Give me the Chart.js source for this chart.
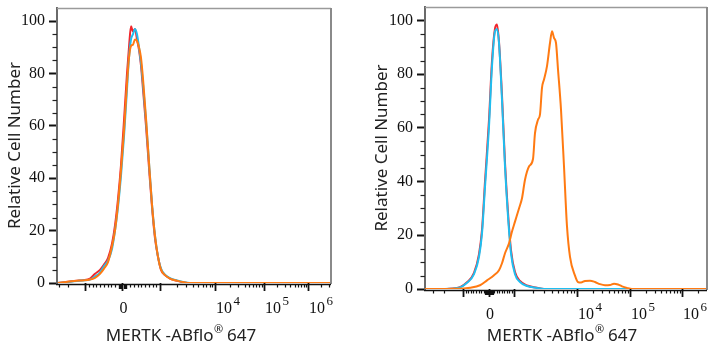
<!DOCTYPE html>
<html><head><meta charset="utf-8">
<script src="https://cdn.jsdelivr.net/npm/chart.js@4.4.0/dist/chart.umd.min.js"></script>
<style>
html,body{margin:0;padding:0;background:#fff;}
#wrap{position:relative;width:717px;height:350px;overflow:hidden;background:#fff;}
canvas{position:absolute;top:0;}
</style></head><body>
<div id="wrap">
<canvas id="c1" width="358" height="350" style="left:0"></canvas>
<canvas id="c2" width="359" height="350" style="left:358px"></canvas>
</div>
<script>
// ---------- data ----------
const yTickValues = [0, 20, 40, 60, 80, 100];
const xLabelBase = ['0', '10', '10', '10'];
const xLabelExp  = ['', '4', '5', '6'];
const xTitleMain = 'MERTK -ABflo';
const xTitleMark = '\u00AE';
const xTitleTail = ' 647';
const yTitle = 'Relative Cell Number';

// display-channel positions of major ticks: -10^3, 0, 10^3, 10^4, 10^5, 10^6
const leftMajorTicks  = [28, 65.5, 103, 158, 207, 251];
const rightMajorTicks = [38, 64, 89, 152, 205, 257];

// left panel (three overlapping histograms)
const leftX      = [1,7,13,20,26,33,38,43,47,51,55,58,61,64,67,70,72,74,76,78,80,82,84,86,89,92,95,98,101,104,108,113,120,127,133,143,274];
const leftRed    = [0,.3,.6,.9,1.1,1.7,3.5,5,7,9.5,15,22,32,45,62,80,90,98,96,97,93,89,83,74,60,44,29,17,10,5,3,1.7,.8,.2,0,0,0];
const leftCyan   = [0,.2,.5,.8,1,1.3,2.5,4,6.5,8.5,13,20,29,41,56,74,86,93,95,97,95,90,84,76,62,46,30,18,10,5.5,3.2,1.9,1,.3,0,0,0];
const leftOrange = [0,.3,.6,.9,1,1.3,2,3.5,5.5,8,14,20,30,43,58,76,86,90.5,91,93,92.5,90,86,78,63,46,30,18,10,5.2,3,1.7,.9,.3,0,0,0];

// right panel
const rightCtrlX = [20,35,42,49,54,57,60,64,67,70,72,74,77,80,83,86,90,95,102,112,119,282];
const rightCyan  = [0,0.6,2.3,5.5,12,20.7,38,60.5,83,96,96.8,91.6,70.5,45.6,27,13.3,5.5,2.6,1.1,0.4,0,0];
const rightRed   = [0,0.7,2.5,6,13,22,40,63,85,97,98.5,92,72,47,28.5,14.5,6.3,3,1.3,0.5,0,0];
const rightOrangeX = [0,32,45,55,62,69,74,77,80,84,87,90,94,97,100,104,108,110,113,115,117,119,122,125,127,129,131,133,136,139,142,145,150,153,156,160,165,170,175,180,185,189,193,197,202,207,282];
const rightOrange  = [0,0.1,0.5,1.4,3.2,5.1,7,9.6,13.3,17,21.4,25.1,30,33.8,40.7,45.6,48.4,58,63,65,74.9,78,83,91.6,96,93.5,91.6,81.8,66.8,45.6,23.3,12,5,2.6,2.4,3,3.1,2.6,1.8,1.4,1.5,2,1.7,1,0.4,0,0];

// ---------- styles ----------
const RED = '#f0262c', CYAN = '#1fbef0', ORANGE = '#ff7a12';
const pts = (xs, ys) => xs.map((x, i) => ({x, y: ys[i]}));

function makeChart(id, cfg) {
  const flowAxes = {
    id: 'flowAxes',
    afterDraw(chart) {
      const {ctx, chartArea: a, scales: {x, y}} = chart;
      ctx.save();
      // frame top/right
      ctx.strokeStyle = '#9a9a9a'; ctx.lineWidth = 1.5;
      ctx.beginPath(); ctx.moveTo(a.left, a.top + 0.5); ctx.lineTo(a.right, a.top + 0.5); ctx.stroke();
      ctx.strokeStyle = '#8a8a8a'; ctx.lineWidth = 2;
      ctx.beginPath(); ctx.moveTo(a.right, a.top); ctx.lineTo(a.right, a.bottom + 1); ctx.stroke();
      // bottom axis line
      ctx.strokeStyle = '#111'; ctx.lineWidth = 1.6;
      ctx.beginPath(); ctx.moveTo(a.left - 1, a.bottom + 1.5); ctx.lineTo(a.right, a.bottom + 1.5); ctx.stroke();
      // y minor ticks
      ctx.strokeStyle = '#222'; ctx.lineWidth = 1.2;
      for (let v = 5; v < 100; v += 5) {
        if (v % 20 === 0) continue;
        const py = Math.round(y.getPixelForValue(v)) + 0.5;
        ctx.beginPath(); ctx.moveTo(a.left - 4.5, py); ctx.lineTo(a.left, py); ctx.stroke();
      }
      // x minor ticks
      const M = cfg.major;
      const [neg, zero, pos] = M;
      const dec = M.slice(3);
      const minors = [];
      for (let k = 1; k <= 9; k++) { minors.push(zero + k * (pos - zero) / 10, zero - k * (zero - neg) / 10); }
      for (let k = 1; k <= 3; k++) { minors.push(zero + k * 1.2, zero - k * 1.2); }
      const seq = [pos, ...dec];
      seq.push(dec[dec.length - 1] + (dec[dec.length - 1] - dec[dec.length - 2]));
      for (let i = 0; i < seq.length - 1; i++) {
        for (let m = 2; m <= 9; m++) minors.push(seq[i] + (seq[i + 1] - seq[i]) * Math.log10(m));
      }
      const W = dec[0] - pos;
      for (let m = 2; m <= 9; m++) minors.push(neg - W * Math.log10(m));
      ctx.strokeStyle = '#111'; ctx.lineWidth = 1.2;
      minors.forEach(v => {
        const px = Math.round(x.getPixelForValue(v)) + 0.5;
        if (px < a.left + 1 || px > a.right - 1) return;
        const len = Math.abs(v - zero) < 4 ? 5 : 3.5;
        ctx.beginPath(); ctx.moveTo(px, a.bottom + 1); ctx.lineTo(px, a.bottom + 1 + len); ctx.stroke();
      });
      // x tick labels
      const labelAt = [M[1], M[3], M[4], M[5]];
      ctx.fillStyle = '#111'; ctx.textBaseline = 'alphabetic';
      const ly = a.bottom + 30;
      labelAt.forEach((v, i) => {
        const px = x.getPixelForValue(v);
        ctx.font = '16px "Liberation Serif"';
        if (!xLabelExp[i]) {
          ctx.textAlign = 'center'; ctx.fillText(xLabelBase[i], px + 1, ly);
        } else {
          ctx.textAlign = 'left';
          ctx.fillText(xLabelBase[i], px + 1, ly);
          const w = ctx.measureText(xLabelBase[i]).width;
          ctx.font = '13px "Liberation Serif"';
          ctx.fillText(xLabelExp[i], px + 2.5 + w, ly - 8);
        }
      });
      // x axis title
      ctx.fillStyle = '#222';
      const f1 = '17px "Noto Sans"', f2 = '11px "Noto Sans"';
      ctx.font = f1; const w1 = ctx.measureText(xTitleMain).width; const w3 = ctx.measureText(xTitleTail).width;
      ctx.font = f2; const w2 = ctx.measureText(xTitleMark).width;
      let sx = cfg.titleX - (w1 + w2 + w3) / 2;
      ctx.textAlign = 'left';
      ctx.font = f1; ctx.fillText(xTitleMain, sx, 341);
      ctx.font = f2; ctx.fillText(xTitleMark, sx + w1 + 0.5, 333);
      ctx.font = f1; ctx.fillText(xTitleTail, sx + w1 + w2, 341);
      ctx.restore();
    }
  };

  return new Chart(document.getElementById(id), {
    type: 'line',
    data: {
      datasets: cfg.series.map(s => ({
        data: s.data, borderColor: s.color, backgroundColor: s.color,
        borderWidth: 2, pointRadius: 0, fill: false, cubicInterpolationMode: 'monotone'
      }))
    },
    options: {
      responsive: false, animation: false,
      layout: {padding: cfg.padding},
      plugins: {legend: {display: false}, tooltip: {enabled: false}},
      scales: {
        x: {
          type: 'linear', min: 0, max: cfg.xMax,
          afterBuildTicks: s => { s.ticks = cfg.major.map(v => ({value: v})); },
          afterFit: s => { s.height = cfg.xHeight; s.paddingLeft = 0; s.paddingRight = 0; },
          ticks: {display: false},
          grid: {display: true, drawOnChartArea: false, drawTicks: true, tickLength: 8, tickWidth: 1.8, tickColor: '#111'},
          border: {display: false}
        },
        y: {
          type: 'linear', min: 0, max: 105,
          afterBuildTicks: s => { s.ticks = yTickValues.map(v => ({value: v})); },
          afterFit: s => { s.width = cfg.yWidth; s.paddingTop = 0; s.paddingBottom = 0; },
          ticks: {color: '#111', font: {family: 'Liberation Serif', size: 16}, padding: 4},
          grid: {display: true, drawOnChartArea: false, drawTicks: true, tickLength: 8, tickWidth: 2, tickColor: '#111'},
          border: {display: true, color: '#6a6a6a', width: 2},
          title: {display: true, text: yTitle, color: '#222', font: {family: 'Noto Sans', size: 17}, padding: {top: cfg.yTitlePad, bottom: 0}}
        }
      }
    },
    plugins: [flowAxes]
  });
}

makeChart('c1', {
  padding: {left: 0, top: 8, right: 27, bottom: 0},
  yWidth: 57, xHeight: 67, xMax: 274, yTitlePad: 5, titleX: 181,
  major: leftMajorTicks,
  series: [
    {data: pts(leftX, leftOrange), color: ORANGE},
    {data: pts(leftX, leftCyan), color: CYAN},
    {data: pts(leftX, leftRed), color: RED}
  ]
});
makeChart('c2', {
  padding: {left: 0, top: 7, right: 10, bottom: 0},
  yWidth: 67, xHeight: 61, xMax: 282, yTitlePad: 14, titleX: 204,
  major: rightMajorTicks,
  series: [
    {data: pts(rightOrangeX, rightOrange), color: ORANGE},
    {data: pts(rightCtrlX, rightCyan), color: CYAN},
    {data: pts(rightCtrlX, rightRed), color: RED}
  ]
});
</script>
</body></html>
